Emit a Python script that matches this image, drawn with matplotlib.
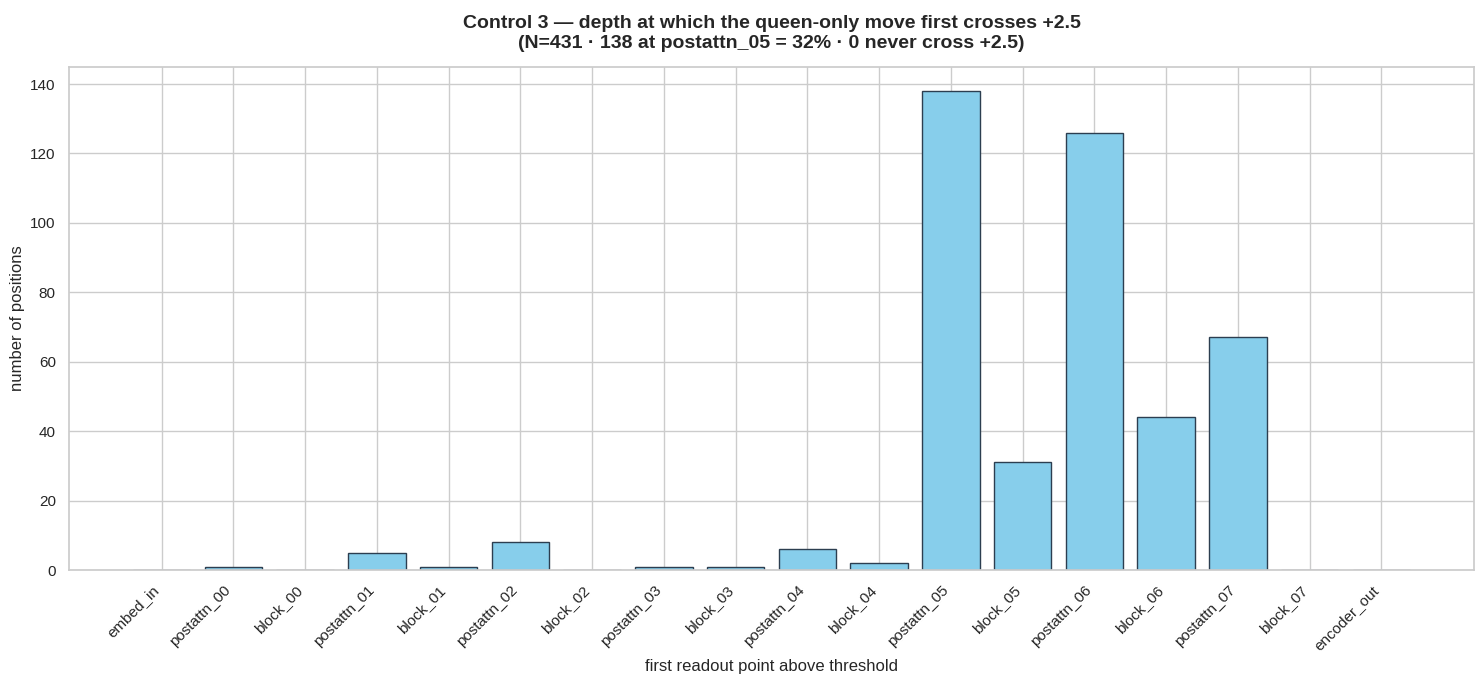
import matplotlib
matplotlib.use("Agg")
import matplotlib.pyplot as plt
import seaborn as sns

sns.set_theme(style="whitegrid")
plt.rcParams['font.family'] = ['Liberation Sans', 'DejaVu Sans']

labels = ["embed_in", "postattn_00", "block_00", "postattn_01", "block_01",
          "postattn_02", "block_02", "postattn_03", "block_03", "postattn_04",
          "block_04", "postattn_05", "block_05", "postattn_06", "block_06",
          "postattn_07", "block_07", "encoder_out"]
counts = [0, 1, 0, 5, 1, 8, 0, 1, 1, 6, 2, 138, 31, 126, 44, 67, 0, 0]

fig, ax = plt.subplots(figsize=(14.84, 6.84), dpi=100)
x = list(range(len(labels)))
ax.bar(x, counts, color="skyblue", edgecolor="#2c3e50", linewidth=1.0)
ax.set_xticks(x)
ax.set_xticklabels(labels, rotation=45, ha="right")
ax.set_xlabel("first readout point above threshold")
ax.set_ylabel("number of positions")
ax.set_title("Control 3 — depth at which the queen-only move first crosses +2.5\n"
             "(N=431 · 138 at postattn_05 = 32% · 0 never cross +2.5)",
             fontsize=14, fontweight="bold", pad=14)
fig.subplots_adjust(left=69/1484, right=1474/1484, top=1-67/684, bottom=1-570/684)
fig.savefig("out.png", dpi=100)
